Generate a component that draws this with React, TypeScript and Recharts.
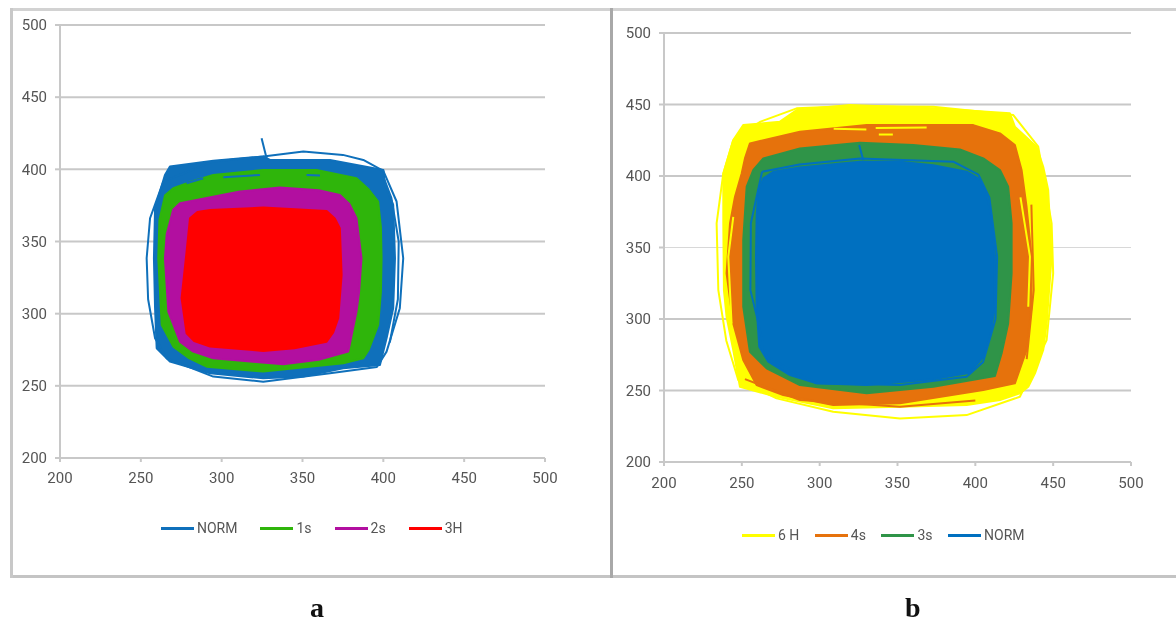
import {
  CartesianGrid,
  Legend,
  ReferenceLine,
  Scatter,
  ScatterChart,
  XAxis,
  YAxis,
} from "recharts";

type Pt = number[];

const TICKS = [200, 250, 300, 350, 400, 450, 500];
const THIN_GRID_B = 350;

// panel a as [x, y]
const NORM_A: Pt[] = [[264.9,396.1],[268,401.9],[294.8,405.9],[325.7,408.9],[329.9,406.5],[367,406.5],[400,399.6],[401,389.2],[406.1,375.4],[407.2,338.4],[406.1,303.8],[402,283],[397.9,264.5],[375.2,262.2],[350.5,256.4],[325.7,255.2],[292.8,258.7],[268,266.8],[259.8,276],[258.8,303.8],[258.1,338.4],[258.8,373]];
const NORM_A_LOOP: Pt[] = [[325.7,408.9],[350.5,412.3],[375,410],[387.6,406.5],[400,399],[408.2,377.7],[412.3,338.4],[410.2,303.8],[402,273.7],[396,263],[367,258.7],[325.7,252.9],[294.8,256.4],[266,269.1],[258.8,283],[254.5,310],[253.6,338.4],[255.7,366.1],[263.9,391.5],[294.8,405.5],[325.7,408.9]];
const NORM_A_LOOP2: Pt[] = [[400,395],[405,380],[409.5,350],[409,310],[404,280]];
const NORM_A_STUB: Pt[] = [[324.7,421.6],[327.8,407.7]];
const NORM_A_STREAK: Pt[] = [[278.3,390.4],[288.6,393.8]];
const NORM_A_STREAK2: Pt[] = [[301,394.5],[323.7,396.1]];
const NORM_A_STREAK3: Pt[] = [[352.5,396.1],[360.8,395.7]];
const ONE_S: Pt[] = [[265,382],[270.1,386.9],[280,391],[294.8,396.1],[325.7,399.6],[358.7,399.6],[383.4,393.8],[391,386],[396.8,377.7],[398.5,360],[398.9,338.4],[398.5,315],[396.8,292.2],[391,275],[387.6,269.1],[375.2,265.6],[325.7,259.9],[290.7,263.3],[280,269],[270.1,277.2],[262.9,292.2],[260.8,338.4],[261.5,365]];
const TWO_S: Pt[] = [[270,372],[274.2,376.5],[290,380],[311.3,384.6],[336,387.4],[360,385.5],[373.1,382.3],[379,376],[383.4,366.1],[386.5,338.4],[385,315],[383.4,301.4],[378.3,273.7],[360,268],[338.1,265],[294.8,269.1],[282,274],[274.2,280.6],[267,301.4],[264.9,338.4],[266,355]];
const THREE_H: Pt[] = [[280.4,366.1],[285,370.5],[292.8,371.9],[325.7,373.5],[364.9,371.2],[370,366],[373.1,359.2],[374.2,326.8],[372.1,296.8],[369,287],[364.9,280.6],[345,276],[325.7,274.2],[292.8,277.2],[283,281],[278.3,286.4],[275.2,310.7],[278.3,343]];

// panel b
const SIX_H: Pt[] = [[244.5,425.1],[250.9,435.6],[274.5,438],[285.2,446.1],[319.4,449.6],[373,447.3],[422.2,443.8],[425.4,434.5],[439.3,420.5],[443.6,406.5],[446.8,390.2],[447.9,366.9],[449,343.6],[445.8,296.9],[443.6,278.3],[438.3,262],[434,252.6],[428.6,248],[415.8,243.3],[394.4,239.8],[351.6,238.6],[308.7,237.5],[272.3,245.6],[248.8,252.6],[244.5,278.3],[240.2,301.6],[238.5,320.2],[238.1,366.9],[238.1,401.8]];
const SIX_H_LOOP: Pt[] = [[244.5,425.1],[262,438],[285.2,447.3],[320,449],[373,448.4],[424.4,442.6],[440.4,420.5],[449,366.9],[450,331.9],[445.8,285.3],[428.6,245.6],[394.4,232.8],[351.6,230.5],[308.7,235.1],[272.3,244.5],[247.7,257.3],[240,285],[234.9,320.2],[233.8,366.9],[238.1,401.8],[244.5,425.1]];
const SIX_H_TOP: Pt[] = [[309,433],[330,432.5]];
const SIX_H_TOP2: Pt[] = [[338,429],[347,429]];
const SIX_H_TOP3: Pt[] = [[336,433.5],[368.7,434]];
const SIX_H_LEFT: Pt[] = [[243.4,296.9],[241.3,343.6],[244.5,371.5]];
const SIX_H_RIGHT: Pt[] = [[434,308.6],[435.1,343.6],[429,385]];
const FOUR_S: Pt[] = [[249.9,401.8],[252,412.3],[255.2,422.8],[287.3,431],[330.2,435.6],[398.7,435.6],[415.8,429.8],[425.4,421.6],[429.7,404.2],[432.9,378.5],[436.1,343.6],[436.1,308.6],[432.9,278.3],[425.4,255],[405.1,250.3],[351.6,241],[308.7,239.8],[276.6,246.8],[259.5,253.8],[250.9,271.3],[244.5,296.9],[240.2,331.9],[242.4,366.9],[245.6,385.5]];
const FOUR_S_BOTTOM: Pt[] = [[252,258],[287.3,243.3],[351.6,238.6],[400,243]];
const FOUR_S_RIGHT: Pt[] = [[436,380],[437.5,320.2],[433,272]];
const THREE_S: Pt[] = [[253.1,392.5],[257.4,404.2],[263.8,412.3],[287.3,419.3],[325.9,423.3],[360.1,421.6],[390.1,418.6],[405.1,412.3],[415.8,404.2],[421.1,392.5],[423.3,366.9],[423.3,331.9],[421.1,296.9],[416.9,276],[412.6,260.1],[373,252.6],[330.2,248],[287.3,253.8],[265.9,265.5],[255.2,277.1],[250.9,308.6],[250.9,355.2]];
const NORM_B: Pt[] = [[260.6,390.2],[263.8,398.3],[270.2,403],[287.3,406],[308.7,408.3],[325.9,410],[351.6,410],[373,407.6],[394.4,403],[401.9,398.3],[407.2,387.8],[410.4,371.5],[412.6,343.6],[412.6,308.6],[409.4,287.6],[405.1,273.6],[396.5,262.4],[373,257.8],[330.2,253.8],[298,255],[280.9,260.8],[267,270.1],[261.2,280.6],[259.5,308.6],[259.1,343.6],[259.5,371.5]];
const NORM_B_LOOP: Pt[] = [[263,403],[287,408],[325.9,412.3],[385.8,410],[402,401],[409,385],[414,343.6],[413,300],[405,270],[394.4,259.6],[351.6,253.8],[298,255],[265.9,273.6],[255.5,320.2],[255.8,366.9],[263,403]];
const NORM_B_STUB: Pt[] = [[325.4,421.6],[328,411]];

const toPoints = (pts: Pt[]) => pts.map(([x, y]) => ({ x, y }));
const noDot = () => <g />;

type Layer = { name: string; color: string; body: Pt[]; lines: Pt[][] };

const LAYERS_A: Layer[] = [
  { name: "NORM", color: "#0f70bb", body: NORM_A, lines: [NORM_A_LOOP, NORM_A_LOOP2, NORM_A_STUB, NORM_A_STREAK, NORM_A_STREAK2, NORM_A_STREAK3] },
  { name: "1s", color: "#2fb50b", body: ONE_S, lines: [] },
  { name: "2s", color: "#b20fa0", body: TWO_S, lines: [] },
  { name: "3H", color: "#ff0000", body: THREE_H, lines: [] },
];

const LAYERS_B: Layer[] = [
  { name: "6 H", color: "#ffff00", body: SIX_H, lines: [SIX_H_LOOP, SIX_H_TOP, SIX_H_TOP2, SIX_H_TOP3, SIX_H_LEFT, SIX_H_RIGHT] },
  { name: "4s", color: "#e6720c", body: FOUR_S, lines: [FOUR_S_BOTTOM, FOUR_S_RIGHT] },
  { name: "3s", color: "#2f9448", body: THREE_S, lines: [] },
  { name: "NORM", color: "#0070c0", body: NORM_B, lines: [NORM_B_LOOP, NORM_B_STUB] },
];

const axisLine = { stroke: "#c8c8c8", strokeWidth: 2 };
const tick = { fill: "#555", fontSize: 15, fontFamily: "Roboto" };

function KeyRow({ layers, lineWidth, gap }: any) {
  return (
    <div style={{ display: "flex", alignItems: "center", fontFamily: "Roboto", fontSize: 14, color: "#555", whiteSpace: "nowrap" }}>
      {layers.map((l: Layer) => (
        <div key={l.name} style={{ display: "flex", alignItems: "center", marginRight: gap }}>
          <span style={{ display: "inline-block", width: lineWidth, height: 3, background: l.color, marginRight: 3 }} />
          {l.name}
        </div>
      ))}
    </div>
  );
}

function Panel({ layers, style, width, height, margin, legendLeft, legendTop, lineWidth, gap, xTickMargin, thinGrid }: any) {
  return (
    <div style={{ position: "absolute", ...style }}>
      <ScatterChart width={width} height={height} margin={margin}>
        <CartesianGrid
          vertical={false}
          stroke="#c8c8c8"
          strokeWidth={2}
          horizontalValues={TICKS.filter((t) => t !== thinGrid)}
        />
        <XAxis type="number" dataKey="x" domain={[200, 500]} ticks={TICKS} tick={tick} axisLine={axisLine} tickLine={axisLine} tickSize={4} tickMargin={xTickMargin} height={30} />
        <YAxis type="number" dataKey="y" domain={[200, 500]} ticks={TICKS} tick={tick} axisLine={axisLine} tickLine={axisLine} tickSize={5} tickMargin={8} width={40} />
        {thinGrid ? <ReferenceLine y={thinGrid} stroke="#d8d8d8" strokeWidth={1} /> : null}
        <Legend
          verticalAlign="middle"
          align="center"
          wrapperStyle={{ left: legendLeft, top: legendTop, width: "auto" }}
          content={() => <KeyRow layers={layers} lineWidth={lineWidth} gap={gap} />}
        />
        {layers.map((l: Layer) => (
          <Scatter
            key={l.name}
            name={l.name}
            data={toPoints(l.body)}
            fill={l.color}
            stroke={l.color}
            shape={noDot}
            line={{ fill: l.color, stroke: l.color, strokeWidth: 2, strokeLinejoin: "round" }}
            lineType="joint"
            lineJointType="linearClosed"
            legendType="line"
            isAnimationActive={false}
          />
        ))}
        {layers.flatMap((l: Layer) =>
          l.lines.map((pts, i) => (
            <Scatter
              key={l.name + i}
              data={toPoints(pts)}
              fill={l.color}
              stroke={l.color}
              shape={noDot}
              line={{ stroke: l.color, strokeWidth: 2, strokeLinejoin: "round" }}
              lineType="joint"
              lineJointType="linear"
              legendType="none"
              isAnimationActive={false}
            />
          )),
        )}
      </ScatterChart>
    </div>
  );
}

const caption = {
  position: "absolute",
  fontFamily: "Liberation Serif",
  fontWeight: 700,
  fontSize: 28,
  lineHeight: "32px",
  color: "#111",
} as const;

export default function App() {
  return (
    <div style={{ position: "fixed", left: 0, top: 0, width: 1176, height: 624, background: "#fff", overflow: "hidden", filter: "blur(0.5px)" }}>
      <div style={{ position: "absolute", left: 10, top: 8, width: 1166, height: 3, background: "#d2d2d2" }} />
      <div style={{ position: "absolute", left: 10, top: 575, width: 1166, height: 3, background: "#c4c4c4" }} />
      <div style={{ position: "absolute", left: 10, top: 8, width: 3, height: 570, background: "#c8c8c8" }} />
      <div style={{ position: "absolute", left: 610, top: 8, width: 3, height: 570, background: "#a8a8a8" }} />

      <Panel
        layers={LAYERS_A}
        style={{ left: 0, top: 0 }}
        width={600}
        height={570}
        margin={{ left: 20, right: 55, top: 25, bottom: 82 }}
        legendLeft={161}
        legendTop={520}
        lineWidth={33}
        gap={23}
        xTickMargin={10}
      />
      <Panel
        layers={LAYERS_B}
        style={{ left: 612, top: 0 }}
        width={540}
        height={570}
        margin={{ left: 12, right: 21, top: 33, bottom: 78 }}
        legendLeft={130}
        legendTop={527}
        lineWidth={33}
        gap={15.5}
        xTickMargin={11}
        thinGrid={THIN_GRID_B}
      />

      <div style={{ ...caption, left: 310, top: 592 }}>a</div>
      <div style={{ ...caption, left: 905, top: 592 }}>b</div>
    </div>
  );
}
